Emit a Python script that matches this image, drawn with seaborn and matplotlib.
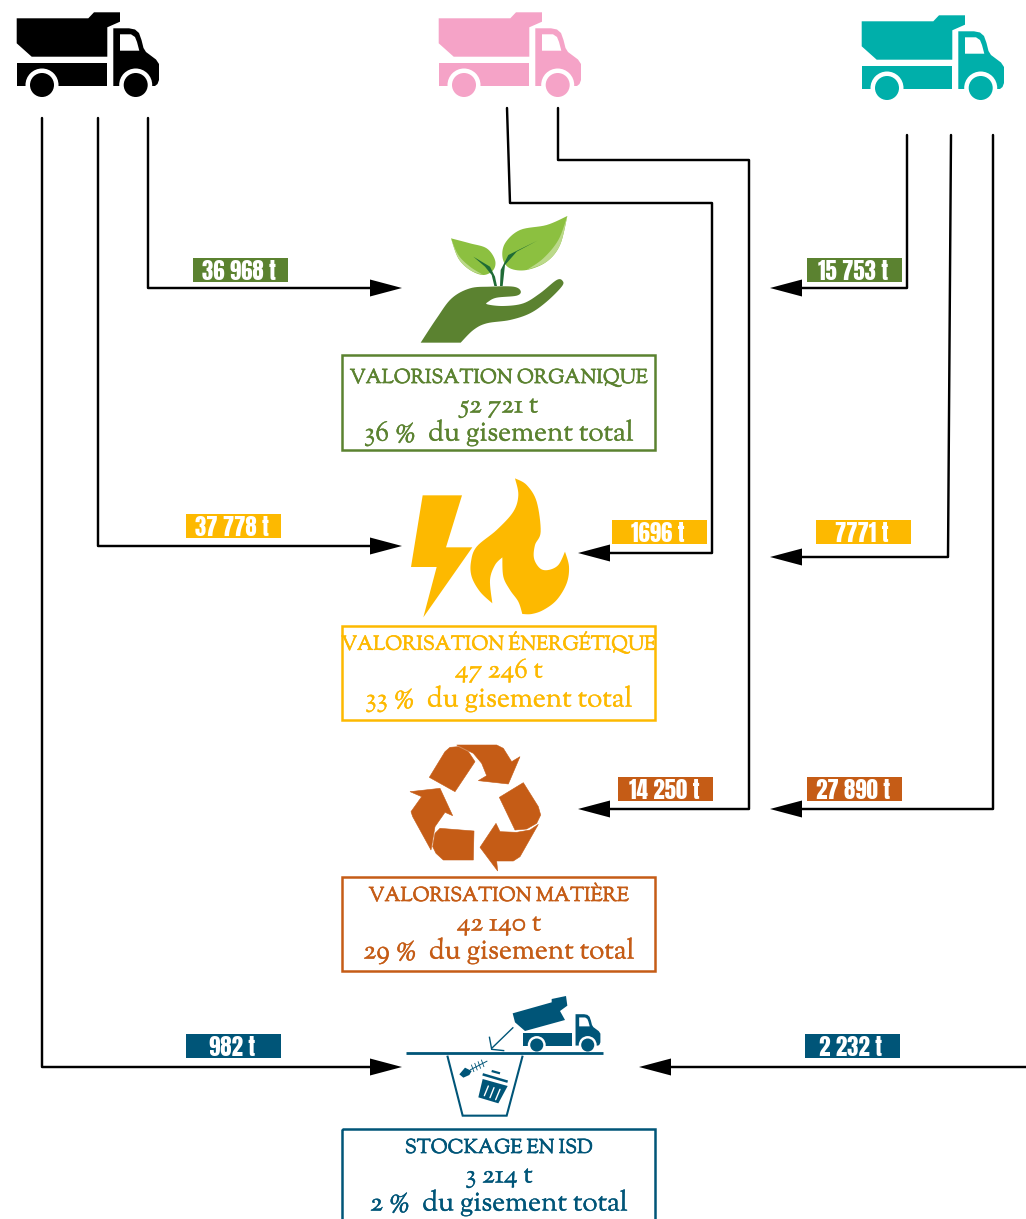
import numpy as np
import pandas as pd
import seaborn as sns
import matplotlib
matplotlib.use("Agg")
import matplotlib.pyplot as plt
import matplotlib.patheffects as pe
from matplotlib.patches import Polygon, Circle, Rectangle

GREEN, YELLOW, ORANGE, BLUE = "#5B8230", "#FDB900", "#C55C16", "#005578"
PINK, TEAL = "#F5A3C7", "#00AFAA"

# ---------- data ----------
box_titles = ["VALORISATION ORGANIQUE", "VALORISATION ÉNERGÉTIQUE", "VALORISATION MATIÈRE", "STOCKAGE EN ISD"]
box_tonnes = ["52 721 t", "47 246 t", "42 140 t", "3 214 t"]
box_shares = ["36 %  du gisement total", "33 %  du gisement total", "29 %  du gisement total", "2 %  du gisement total"]
box_colors = [GREEN, YELLOW, ORANGE, BLUE]
box_tops = [355, 626, 877, 1129]
box_heights = [95, 94, 94, 102]
title_y = [377, 642, 895, 1147]
tonnes_y = [405, 670, 923, 1175]
share_y = [433, 699, 951, 1203]

flow_labels = ["36 968 t", "37 778 t", "982 t", "1696 t", "14 250 t", "15 753 t", "7771 t", "27 890 t", "2 232 t"]
flow_colors = [GREEN, YELLOW, BLUE, YELLOW, ORANGE, GREEN, YELLOW, ORANGE, BLUE]
flow_label_x = [193, 186, 186, 612, 618, 807, 816, 807, 805]
flow_label_y = [258, 514, 1034, 520, 777, 258, 520, 777, 1034]
flow_path_x = [[148, 148, 372], [98, 98, 372], [42, 42, 372],
               [507, 510, 712, 712, 608], [558, 558, 749, 749, 608],
               [907, 907, 800], [951, 948, 800], [993, 993, 800], [1026, 669]]
flow_path_y = [[118, 288, 288], [118, 546, 546], [118, 1067, 1067],
               [108, 203, 203, 553, 553], [108, 160, 160, 809, 809],
               [135, 288, 288], [135, 557, 557], [135, 809, 809], [1067, 1067]]
flow_tip_x = [402, 402, 402, 578, 578, 770, 770, 770, 639]

# ---------- helpers ----------
sns.set_theme(style="white")
SERIF = ["Sorts Mill Goudy", "Liberation Serif", "DejaVu Serif"]
plt.rcParams["font.family"] = SERIF
fig = plt.figure(figsize=(10.26, 12.19), dpi=100)
ax = fig.add_axes([0, 0, 1, 1])
ax.set_xlim(0, 1026)
ax.set_ylim(1219, 0)
ax.axis("off")


def smooth(pts, n=8):
    """closed outline; runs between repeated points are open Catmull-Rom curves, repeats are sharp corners"""
    p = [np.asarray(q, float) for q in pts]
    m = len(p)
    corners = [i for i in range(m) if np.allclose(p[i], p[(i + 1) % m])]
    if not corners:
        corners = [0]
        p.append(p[0])
    start = corners[0] + 1
    p = p[start:] + p[:start]
    runs, cur = [], []
    for q in p:
        if cur and np.allclose(cur[-1], q):
            runs.append(cur)
            cur = [q]
        else:
            cur.append(q)
    if cur:
        runs.append(cur)
    out = []
    for run in runs:
        r = [run[0]] + run + [run[-1]]
        for i in range(1, len(r) - 2):
            p0, p1, p2, p3 = r[i - 1], r[i], r[i + 1], r[i + 2]
            for t in np.linspace(0, 1, n, endpoint=False):
                out.append(0.5 * (2 * p1 + (p2 - p0) * t + (2 * p0 - 5 * p1 + 4 * p2 - p3) * t ** 2
                                  + (3 * p1 - p0 - 3 * p2 + p3) * t ** 3))
        out.append(run[-1])
    return np.array(out)


def zoomed(pts, ox, oy):
    return np.asarray(pts, float) / 3 + [ox, oy]


def poly(pts, color, z=3, curved=False, ew=0):
    xy = smooth(pts) if curved else pts
    ax.add_patch(Polygon(xy, closed=True, fc=color, ec=color if ew else "none", lw=ew, zorder=z))


def truck(dx, dy, color, s=1.0, body=True):
    T = lambda pts: np.asarray(pts, float) * s + [dx, dy]
    if body:
        poly(T([(16.7, 18.3), (88.3, 18.3), (94, 12.3), (120, 12.3), (120, 21.7), (107.3, 27.3),
                (107.3, 56.7), (31.7, 56.7), (16.7, 43.3)]), color)
    poly(T([(16.7, 63.3), (107, 63.3), (107, 86), (16.7, 86)]), color)
    cab = [(113.3, 28.3), (129, 28.3), (135, 29.5), (139, 33), (141.5, 40), (143.5, 48), (146, 52), (156, 59.5),
           (159, 64), (159, 80), (157.5, 84), (155, 86), (113.3, 86)]
    poly(T(cab), color)
    poly(T([(120, 34.3), (131, 34.3), (135, 37), (137, 42), (139.3, 50.7), (120, 50.7)]), "white", z=4)
    for cx in (42, 135.7):
        c = T([(cx, 85)])[0]
        ax.add_patch(Circle(c, 16.5 * s, fc="white", ec="none", zorder=4))
        ax.add_patch(Circle(c, 12 * s, fc=color, ec="none", zorder=5))


# ---------- trucks ----------
truck(0, 0, "black")
truck(422, 0, PINK)
truck(845, 3, TEAL)

# ---------- flows ----------
for xs, ys, tip, lab, col, lx, ly in zip(flow_path_x, flow_path_y, flow_tip_x, flow_labels,
                                         flow_colors, flow_label_x, flow_label_y):
    df = pd.DataFrame({"x": xs, "y": ys})
    sns.lineplot(data=df, x="x", y="y", sort=False, estimator=None, color="black", lw=1.75, ax=ax, zorder=2)
    base = xs[-1] - 2 if tip > xs[-1] else xs[-1] + 2
    ax.add_patch(Polygon([(base, ys[-1] - 8.5), (tip, ys[-1]), (base, ys[-1] + 8.5)], fc="black", ec="none", zorder=3))
    ax.add_patch(Rectangle((lx, ly), 95, 24, fc=col, ec="none", zorder=6))
    ax.text(lx + 46, ly + 13.5, lab, color="white", ha="center", va="center", fontsize=16.5, zorder=7,
            family=["Anton", "Liberation Sans"])
ax.set_xlim(0, 1026)
ax.set_ylim(1219, 0)
ax.set_xlabel("")
ax.set_ylabel("")

# ---------- boxes ----------
for title, tons, share, col, top, h, ty, vy, sy in zip(box_titles, box_tonnes, box_shares, box_colors, box_tops,
                                                       box_heights, title_y, tonnes_y, share_y):
    ax.add_patch(Rectangle((341.5, top), 313.5, h, fc="none", ec=col, lw=1.8, zorder=3))
    ax.text(499, ty, title, color=col, ha="center", va="center", fontsize=14.3, zorder=6,
            path_effects=[pe.withStroke(linewidth=0.5, foreground=col)])
    ax.text(499, vy, tons, color=col, ha="center", va="center", fontsize=19.5, zorder=6,
            path_effects=[pe.withStroke(linewidth=0.25, foreground=col)])
    ax.text(499, sy, share, color=col, ha="center", va="center", fontsize=20, zorder=6,
            path_effects=[pe.withStroke(linewidth=0.25, foreground=col)])

# ---------- organic icon ----------
ox, oy = 330, 205
hand = [(272, 413), (272, 413), (320, 340), (365, 280), (420, 250), (480, 245), (550, 245), (572, 258), (560, 272),
        (500, 278), (475, 290), (472, 298), (520, 303), (580, 295), (630, 265), (680, 225), (698, 228), (695, 245),
        (650, 290), (600, 325), (540, 345), (470, 355), (430, 375), (392, 413), (392, 413)]
poly(zoomed(hand, ox, oy), GREEN, curved=True)
leaf_l = [(363, 100), (363, 100), (420, 115), (470, 130), (495, 165), (490, 195), (460, 210), (420, 195), (385, 160)]
leaf_r = [(712, 33), (712, 33), (650, 60), (570, 75), (525, 115), (518, 160), (540, 190), (590, 195), (650, 170), (690, 120)]
leaf_r_hi = [(712, 33), (712, 33), (690, 120), (650, 170), (590, 195), (590, 195), (640, 160), (685, 105)]
leaf_l_hi = [(363, 100), (363, 100), (385, 160), (420, 195), (460, 210), (460, 210), (420, 185), (385, 150)]
poly(zoomed(leaf_l, ox, oy), "#8CC040", curved=True)
poly(zoomed(leaf_r, ox, oy), "#8CC040", curved=True)
poly(zoomed(leaf_r_hi, ox, oy), "#BBD98A", z=4, curved=True)
poly(zoomed(leaf_l_hi, ox, oy), "#BBD98A", z=4, curved=True)
stem_l = [(430, 155), (480, 185), (495, 215), (501, 243), (493, 243), (485, 210), (465, 185)]
stem_r = [(622, 107), (560, 140), (525, 180), (518, 243), (510, 243), (512, 195), (535, 150)]
poly(zoomed(stem_l, ox, oy), "#1F6B36", z=5)
poly(zoomed(stem_r, ox, oy), "#1F6B36", z=5)

# ---------- energy icon ----------
ox, oy = 330, 470
poly(zoomed([(278, 76), (396, 76), (348, 232), (427, 232), (280, 442), (320, 291), (243, 291)], ox, oy), YELLOW)
flame = [(555, 25), (555, 25), (590, 45), (620, 95), (632, 185), (615, 225), (612, 265), (630, 295), (655, 300), (685, 285),
         (705, 245), (705, 245), (717, 290), (710, 340), (680, 390), (640, 420), (605, 432), (577, 432), (577, 432), (565, 395),
         (540, 360), (520, 320), (517, 262), (517, 262), (495, 285), (480, 330), (487, 400), (487, 400), (450, 365), (425, 320),
         (423, 275), (440, 230), (500, 180), (550, 125), (565, 75)]
poly(zoomed(flame, ox, oy), YELLOW, curved=True)

# ---------- recycling icon ----------
ox, oy = 330, 735
pieces = [
    [(298, 127), (345, 50), (360, 37), (385, 35), (415, 50), (435, 80), (375, 170)],
    [(380, 30), (500, 30), (520, 40), (545, 80), (570, 65), (535, 147), (445, 137), (470, 122), (455, 85), (430, 55)],
    [(508, 187), (580, 143), (625, 215), (632, 240), (620, 265), (590, 282), (555, 285)],
    [(625, 268), (570, 365), (550, 378), (500, 378), (503, 408), (450, 337), (498, 265), (510, 290), (560, 292), (600, 285)],
    [(432, 288), (430, 375), (340, 375), (318, 355), (308, 335), (315, 295), (330, 280)],
    [(240, 170), (330, 160), (368, 242), (345, 232), (315, 275), (303, 345), (248, 245), (243, 230), (275, 185)],
]
for pc in pieces:
    poly(zoomed(pc, ox, oy), ORANGE, ew=0.4)

# ---------- landfill icon ----------
ox, oy = 330, 985
truck(513.9, 998.8, BLUE, s=0.544, body=False)
poly(zoomed([(548, 85), (665, 52), (665, 42), (708, 33), (712, 62), (690, 78), (705, 105), (585, 138), (555, 112)], ox, oy), BLUE)


def seg(pts, lw=1.2):
    p = zoomed(pts, ox, oy)
    ax.plot(p[:, 0], p[:, 1], color=BLUE, lw=lw, solid_capstyle="butt", solid_joinstyle="miter", zorder=4)


seg([(228, 205), (820, 205)], lw=2)
seg([(352, 212), (398, 392), (530, 392), (578, 212)], lw=1.5)
seg([(550, 127), (485, 190)], lw=1)
seg([(478, 155), (485, 193), (523, 197)], lw=1)
# fish
poly(zoomed([(388, 268), (405, 248), (425, 258), (418, 270), (400, 278)], ox, oy), BLUE, z=5)
seg([(420, 255), (472, 228)], lw=0.7)
for fx, fy in [(428, 250), (438, 245), (448, 240), (458, 235)]:
    seg([(fx - 4, fy - 11), (fx + 4, fy + 11)], lw=0.6)
# bin
poly(zoomed([(458, 282), (533, 303), (505, 355), (445, 337)], ox, oy), BLUE, z=5)
for a, b in [((475, 303), (463, 332)), ((492, 308), (480, 338)), ((510, 313), (497, 344))]:
    p = zoomed([a, b], ox, oy)
    ax.plot(p[:, 0], p[:, 1], color="white", lw=1.0, zorder=6)
seg([(458, 268), (533, 290)], lw=1.8)
seg([(485, 258), (510, 265)], lw=1.6)

fig.savefig("out.png", dpi=100)
